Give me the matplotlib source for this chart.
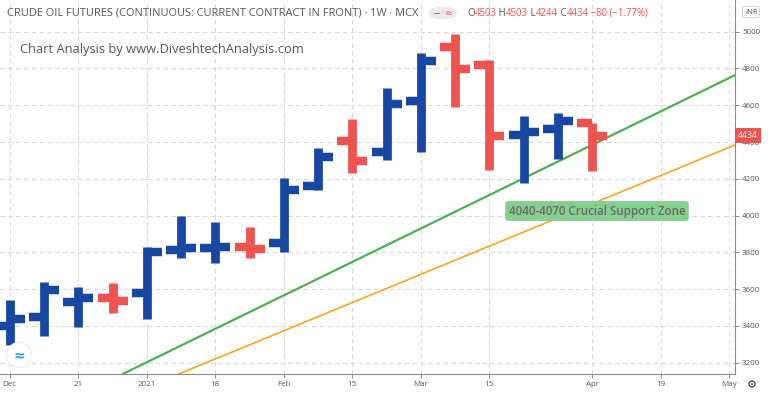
import matplotlib
matplotlib.use("Agg")
import matplotlib.pyplot as plt
import matplotlib.dates as mdates
import matplotlib.patches as mpatches
import numpy as np
import pandas as pd

# weekly OHLC, crude oil futures (MCX)
weeks = ['2020-12-07', '2020-12-14', '2020-12-21', '2020-12-28', '2021-01-04',
         '2021-01-11', '2021-01-18', '2021-01-25', '2021-02-01', '2021-02-08',
         '2021-02-15', '2021-02-22', '2021-03-01', '2021-03-08', '2021-03-15',
         '2021-03-22', '2021-03-29', '2021-04-05']
opens  = [3400, 3449, 3530, 3550, 3578, 3815, 3822, 3832, 3850, 4160,
          4405, 4346, 4623, 4917, 4819, 4440, 4470, 4503]
highs  = [3541, 3639, 3612, 3633, 3828, 3997, 3965, 3937, 4204, 4367,
          4525, 4694, 4884, 4988, 4847, 4541, 4557, 4503]
lows   = [3296, 3345, 3394, 3470, 3438, 3768, 3742, 3768, 3802, 4139,
          4232, 4302, 4346, 4590, 4248, 4177, 4307, 4244]
closes = [3436, 3595, 3552, 3535, 3801, 3822, 3830, 3818, 4139, 4318,
          4296, 4606, 4841, 4797, 4432, 4452, 4514, 4434]

# trend lines (two points each)
green_dates = ['2020-12-28', '2021-05-03']
green_vals = [3112, 4748]
orange_dates = ['2021-01-11', '2021-05-03']
orange_vals = [3144, 4371]

xtick_dates = ['2020-12-07', '2020-12-21', '2021-01-04', '2021-01-18', '2021-02-01',
               '2021-02-15', '2021-03-01', '2021-03-15', '2021-04-05', '2021-04-19',
               '2021-05-03']
xtick_labels = ['Dec', '21', '2021', '18', 'Feb', '15', 'Mar', '15', 'Apr', '19', 'May']
yticks = [3200, 3400, 3600, 3800, 4000, 4200, 4400, 4600, 4800, 5000]

last_price = 4434
title = "CRUDE OIL FUTURES (CONTINUOUS: CURRENT CONTRACT IN FRONT) \u00b7 1W \u00b7 MCX"
legend_parts = [("O", "4503"), (" H", "4503"), (" L", "4244"), (" C", "4434")]
change_text = " \u221280 (\u22121.77%)"

UP = '#1747a3'
DOWN = '#ef5350'
TXT = '#555555'

plt.rcParams['font.family'] = ['Open Sans', 'DejaVu Sans']

x = mdates.date2num(pd.to_datetime(weeks))
o = np.array(opens); h = np.array(highs); l = np.array(lows); c = np.array(closes)
cols = [UP if cc >= oo else DOWN for oo, cc in zip(o, c)]

fig = plt.figure(figsize=(7.68, 3.93), dpi=100)
ax = fig.add_axes([0, 19/393, 735/768, 374/393])

ax.grid(True, ls=(0, (4, 3)), color='#d9d9d9', lw=0.8, zorder=0)

# thick OHLC bars: body line, open tick left, close tick right
half = 3.07
ax.vlines(x, l, h, colors=cols, lw=6.3, zorder=3)
ax.hlines(o, x - half, x, colors=cols, lw=6.1, zorder=3)
ax.hlines(c, x, x + half, colors=cols, lw=6.1, zorder=3)

gx = mdates.date2num(pd.to_datetime(green_dates))
ox = mdates.date2num(pd.to_datetime(orange_dates))
ax.axline((gx[0], green_vals[0]), (gx[1], green_vals[1]), color='#4caf50', lw=1.6, zorder=2)
ax.axline((ox[0], orange_vals[0]), (ox[1], orange_vals[1]), color='#f5a623', lw=1.2, zorder=2)

x0 = x[0]
ax.set_xlim(x0 - 2.0, x0 + 148.2)
ax.set_ylim(3139, 5172)

ax.set_xticks(mdates.date2num(pd.to_datetime(xtick_dates)))
ax.set_xticklabels(xtick_labels)
ax.yaxis.tick_right()
ax.set_yticks(yticks)
ax.tick_params(axis='both', labelsize=5.8, colors='#777777', labelcolor=TXT,
               length=3, width=0.6, pad=2)
for s in ['top', 'left']:
    ax.spines[s].set_visible(False)
for s in ['bottom', 'right']:
    ax.spines[s].set_color('#8a8a8a')
    ax.spines[s].set_linewidth(0.8)

# support zone label
ax.text(mdates.date2num(pd.Timestamp('2021-04-06')), 4025, "4040-4070 Crucial Support Zone",
        ha='center', va='center', fontsize=8.3, color='#6a6a6a', fontweight='semibold', zorder=4,
        bbox=dict(boxstyle='round,pad=0.3,rounding_size=0.3', fc='#86cf90', ec='none'))

# last price tag
ax.annotate(str(last_price), xy=(1, last_price), xycoords=('axes fraction', 'data'),
            xytext=(2, 0), textcoords='offset points', ha='left', va='center',
            fontsize=6.3, color='white', annotation_clip=False, zorder=6,
            bbox=dict(boxstyle='square,pad=0.35', fc=DOWN, ec='none'))

# header
ytop = 1 - 13/393
fig.text(7/768, ytop, title, fontsize=7.9, color=TXT, va='center')

pill = mpatches.FancyBboxPatch((429/768, 1 - 19/393), 28/768, 12/393,
                               boxstyle='round,pad=0,rounding_size=0.015',
                               transform=fig.transFigure, fc='#ebebef', ec='none')
fig.patches.append(pill)
fig.text(437/768, ytop, "\u2012", fontsize=7, color='#666666', va='center', ha='center',
         family='DejaVu Sans')
fig.text(449/768, ytop, "\u2248", fontsize=7, color=DOWN, va='center', ha='center',
         family='DejaVu Sans')

# O/H/L/C legend: each piece placed right after the previous one
prev = None
for letter, num in legend_parts:
    if prev is None:
        prev = fig.text(467/768, ytop, letter, fontsize=6.9, color=TXT, va='center')
    else:
        prev = plt.annotate(letter, xy=(1, 0.5), xycoords=prev, va='center', ha='left',
                            fontsize=6.9, color=TXT)
    prev = plt.annotate(num, xy=(1, 0.5), xycoords=prev, va='center', ha='left',
                        fontsize=6.9, color=DOWN)
plt.annotate(change_text, xy=(1, 0.5), xycoords=prev, va='center', ha='left',
             fontsize=6.9, color=DOWN)

fig.text(751/768, 1 - 12/393, "INR", fontsize=5.5, color=TXT, va='center', ha='center',
         bbox=dict(boxstyle='round,pad=0.3,rounding_size=0.3', fc='white', ec='#cccccc', lw=0.6))

fig.text(20/768, 1 - 50/393, "Chart Analysis by www.DiveshtechAnalysis.com",
         fontsize=9.3, color=TXT, va='center')

# gear icon bottom right
fig.text(752/768, 1 - 385/393, "\u2699", fontsize=8, color='#333333',
         va='center', ha='center', family='DejaVu Sans')

# logo badge bottom left
fig.patches.append(mpatches.Circle((0.19, 3.93 - 3.55), 0.125, transform=fig.dpi_scale_trans,
                                   fc='white', ec='#ececec', lw=0.8, zorder=10))
fig.text(19/768, 1 - 355/393, "\u2248", fontsize=10, color='#2196f3', fontweight='bold',
         va='center', ha='center', family='DejaVu Sans', zorder=11)

fig.savefig("out.png", dpi=100)
